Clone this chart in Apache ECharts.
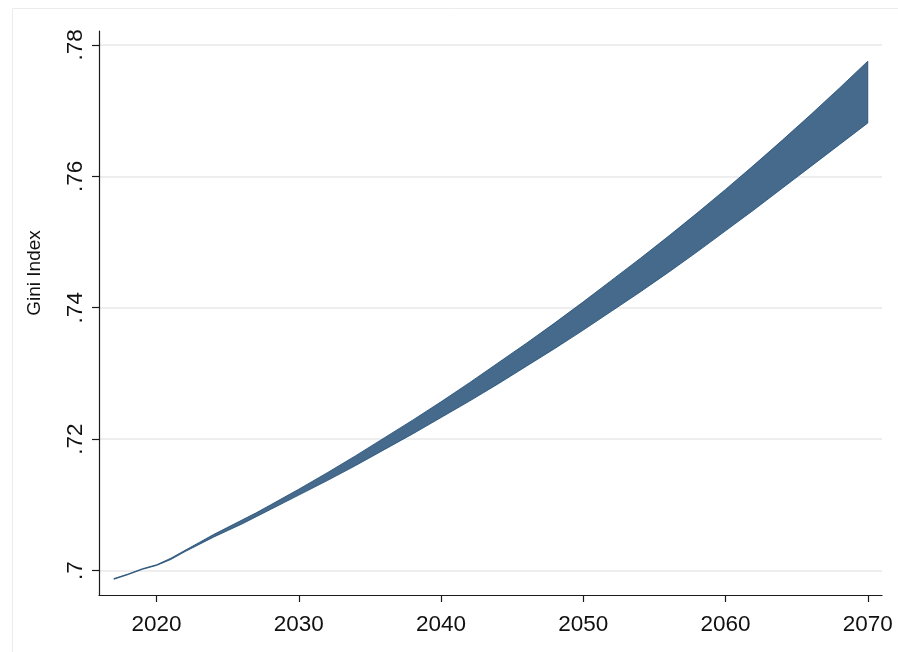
<!DOCTYPE html>
<html>
<head>
<meta charset="utf-8">
<script src="https://cdn.jsdelivr.net/npm/echarts@6/dist/echarts.min.js"></script>
<style>
  html, body { margin: 0; padding: 0; background: #ffffff; }
  #chart { width: 898px; height: 652px; }
</style>
</head>
<body>
<div id="chart"></div>
<script>
// Projected Gini index: lower and upper bounds of the projection band
const years = [2017, 2018, 2019, 2020, 2021, 2022, 2023, 2024, 2025, 2026, 2027, 2028, 2029, 2030,
  2032, 2034, 2036, 2038, 2040, 2042, 2044, 2046, 2048, 2050,
  2052, 2054, 2056, 2058, 2060, 2062, 2064, 2066, 2068, 2070];
const upperBound = [0.6988, 0.6995, 0.7003, 0.7009, 0.7019, 0.7031, 0.7043, 0.7055, 0.7066, 0.7077, 0.7088, 0.7100, 0.7112, 0.7124,
  0.7149, 0.7175, 0.7202, 0.7229, 0.7257, 0.7286, 0.7316, 0.7346, 0.7377, 0.7409,
  0.7442, 0.7475, 0.7509, 0.7544, 0.7580, 0.7617, 0.7655, 0.7694, 0.7734, 0.7775];
const lowerBound = [0.6987, 0.6994, 0.7002, 0.7008, 0.7017, 0.7029, 0.7040, 0.7051, 0.7061, 0.7071, 0.7082, 0.7093, 0.7104, 0.7115,
  0.7137, 0.7160, 0.7184, 0.7208, 0.7233, 0.7258, 0.7284, 0.7311, 0.7338, 0.7366,
  0.7395, 0.7424, 0.7454, 0.7485, 0.7517, 0.7549, 0.7582, 0.7615, 0.7648, 0.7681];

const xTicks = [2020, 2030, 2040, 2050, 2060, 2070];
const yTicks = [0.70, 0.72, 0.74, 0.76, 0.78];
const yTitle = 'Gini Index';

const FONT = '"Liberation Sans", Arial, Helvetica, sans-serif';
const chart = echarts.init(document.getElementById('chart'), null, { renderer: 'canvas' });

// Stata-style labels: ".78", ".7"
function fmtGini(v) {
  let s = (+v).toFixed(2).replace(/0+$/, '').replace(/\.$/, '');
  return s.replace(/^0\./, '.');
}

const option = {
  backgroundColor: '#ffffff',
  animation: false,
  graphic: [
    // faint outline of the graph region
    {
      type: 'polyline',
      shape: { points: [[12.5, 660], [12.5, 8.5], [905, 8.5]] },
      style: { stroke: '#ececec', lineWidth: 1, fill: null },
      silent: true
    },
    // y-axis title
    {
      type: 'text',
      x: 35,
      y: 273,
      rotation: Math.PI / 2,
      style: {
        text: yTitle,
        font: '19px ' + FONT,
        fill: '#111',
        align: 'center',
        verticalAlign: 'middle'
      },
      silent: true
    }
  ],
  grid: { left: 99, right: 16, top: 31, bottom: 57 },
  xAxis: {
    type: 'value',
    min: 2015.95,
    max: 2071,
    axisLine: { show: true, lineStyle: { color: '#1a1a1a', width: 1.2 } },
    axisTick: { show: true, length: 7, customValues: xTicks, lineStyle: { color: '#1a1a1a', width: 1.2 } },
    axisLabel: {
      customValues: xTicks,
      fontFamily: FONT, fontSize: 22.5, color: '#111', margin: 18,
      formatter: v => String(Math.round(v))
    },
    splitLine: { show: false }
  },
  yAxis: {
    type: 'value',
    min: 0.6963,
    max: 0.7821,
    axisLine: { show: true, lineStyle: { color: '#1a1a1a', width: 1.2 } },
    axisTick: { show: true, length: 7, customValues: yTicks, lineStyle: { color: '#1a1a1a', width: 1.2 } },
    axisLabel: {
      customValues: yTicks,
      rotate: 90,
      fontFamily: FONT, fontSize: 22.5, color: '#111', margin: 12,
      formatter: v => fmtGini(v)
    },
    splitLine: { show: true, lineStyle: { color: '#e9e9e9', width: 1.5 } }
  },
  series: [
    {
      type: 'custom',
      clip: true,
      data: years.map((y, i) => [y, lowerBound[i], upperBound[i]]),
      encode: { x: 0, y: [1, 2] },
      renderItem: function (params, api) {
        if (params.dataIndex !== 0) return null;
        const pts = [];
        for (let i = 0; i < years.length; i++) pts.push(api.coord([years[i], upperBound[i]]));
        for (let i = years.length - 1; i >= 0; i--) pts.push(api.coord([years[i], lowerBound[i]]));
        return {
          type: 'polygon',
          shape: { points: pts },
          style: { fill: '#466a8c', stroke: '#1d4a72', lineWidth: 0.8 }
        };
      }
    }
  ]
};

chart.setOption(option);
</script>
</body>
</html>
